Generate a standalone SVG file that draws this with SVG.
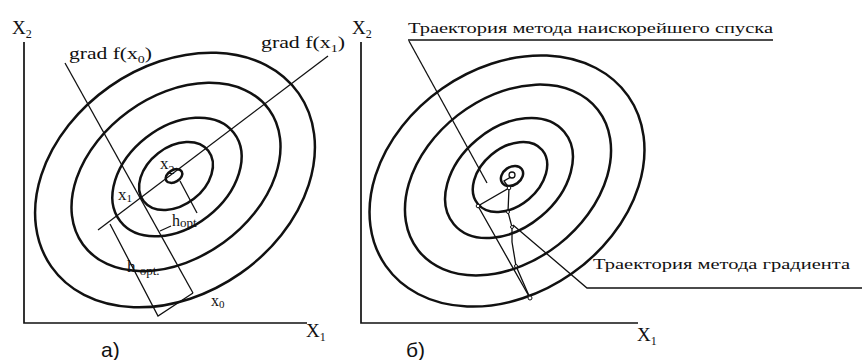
<svg xmlns="http://www.w3.org/2000/svg" width="862" height="360" viewBox="0 0 862 360">
<style>
.c{fill:none;stroke:#111;stroke-width:2.5}
.l{fill:none;stroke:#111;stroke-width:1.3}
.ax{fill:none;stroke:#111;stroke-width:1.7}
.t{font-family:"Liberation Serif",serif;fill:#111}
.s{font-family:"Liberation Sans",sans-serif;fill:#111;font-size:21px}
.d{fill:#fff;stroke:#111;stroke-width:1}
</style>
<rect width="862" height="360" fill="#fff"/>
<g id="panel-a">
  <g id="axes-a">
    <path class="ax" d="M24 42 V323 H307"/>
    <text class="t" x="12" y="34" font-size="19">X<tspan font-size="12" dy="4">2</tspan></text>
    <text class="t" x="306" y="337" font-size="19">X<tspan font-size="12" dy="4">1</tspan></text>
    <text class="s" x="101" y="357">a)</text>
  </g>
  <g id="contours-a">
    <ellipse class="c" cx="175" cy="180" rx="151" ry="114" transform="rotate(-35 175 180)"/>
    <ellipse class="c" cx="176" cy="177" rx="115" ry="81" transform="rotate(-36 176 177)"/>
    <ellipse class="c" cx="177" cy="177" rx="72" ry="50" transform="rotate(-38 177 177)"/>
    <ellipse class="c" cx="176" cy="176" rx="41" ry="29" transform="rotate(-38 176 176)"/>
    <ellipse class="c" cx="174" cy="176" rx="9" ry="6" transform="rotate(-30 174 176)" stroke-width="1.6"/>
  </g>
  <g id="connectors-a">
    <path class="l" d="M65 63 L193 293"/>
    <path class="l" d="M328 56 L98 230"/>
    <path class="l" d="M110 224 L158 316 L193 293"/>
    <path class="l" d="M180 181 L197 213"/>
    <path class="l" d="M160 231 L171 226"/>
  </g>
  <g id="labels-a">
    <text class="t" x="69" y="59" font-size="17" textLength="83" lengthAdjust="spacingAndGlyphs">grad f(x<tspan font-size="11" dy="4">0</tspan><tspan dy="-4">)</tspan></text>
    <text class="t" x="261" y="48" font-size="17" textLength="84" lengthAdjust="spacingAndGlyphs">grad f(x<tspan font-size="11" dy="4">1</tspan><tspan dy="-4">)</tspan></text>
    <text class="t" x="118" y="200" font-size="17">x<tspan font-size="11" dy="2">1</tspan></text>
    <text class="t" x="160" y="169" font-size="17">x<tspan font-size="12" dy="5">2</tspan></text>
    <text class="t" x="172" y="226" font-size="16">h<tspan font-size="13" dy="1">opt</tspan></text>
    <text class="t" x="127" y="272" font-size="17">h <tspan font-size="13" dy="3">opt.</tspan></text>
    <text class="t" x="211" y="306" font-size="16">x<tspan font-size="11" dy="2">0</tspan></text>
  </g>
</g>
<g id="panel-b">
  <g id="axes-b">
    <path class="ax" d="M361 42 V323 H638"/>
    <text class="t" x="352" y="34" font-size="19">X<tspan font-size="12" dy="4">2</tspan></text>
    <text class="t" x="637" y="341" font-size="19">X<tspan font-size="12" dy="4">1</tspan></text>
    <text class="s" x="406" y="357">б)</text>
  </g>
  <g id="contours-b">
    <ellipse class="c" cx="507" cy="181" rx="148" ry="113" transform="rotate(-35 507 181)"/>
    <ellipse class="c" cx="508" cy="180" rx="114" ry="82" transform="rotate(-38 508 180)"/>
    <ellipse class="c" cx="509" cy="178" rx="72" ry="50" transform="rotate(-40 509 178)"/>
    <ellipse class="c" cx="510" cy="177" rx="42" ry="29" transform="rotate(-40 510 177)"/>
    <ellipse class="c" cx="512" cy="176" rx="12" ry="9" transform="rotate(-35 512 176)" stroke-width="1.6"/>
    <circle class="l" cx="512" cy="175" r="3"/>
  </g>
  <g id="connectors-b">
    <path class="l" d="M408 40 H773"/>
    <path class="l" d="M409 41 L487 183"/>
    <path class="l" d="M530 298 L478 206 L509 188 L504 181 L511 177"/>
    <path class="l" d="M530 298 L516 266 L512 242 L512 227 L508 212 L509 188"/>
    <path class="l" d="M513 225 L587 288 H862"/>
    <circle class="d" cx="530" cy="298" r="2"/>
    <circle class="d" cx="478" cy="206" r="1.8"/>
    <circle class="d" cx="509" cy="188" r="1.8"/>
    <circle class="d" cx="508" cy="212" r="1.5"/>
    <circle class="d" cx="512" cy="227" r="1.5"/>
    <circle class="d" cx="516" cy="266" r="1.5"/>
  </g>
  <g id="labels-b">
    <text class="t" x="408" y="33" font-size="15" textLength="365" lengthAdjust="spacingAndGlyphs">Траектория метода наискорейшего спуска</text>
    <text class="t" x="593" y="269" font-size="15" textLength="257" lengthAdjust="spacingAndGlyphs">Траектория метода градиента</text>
  </g>
</g>
</svg>
